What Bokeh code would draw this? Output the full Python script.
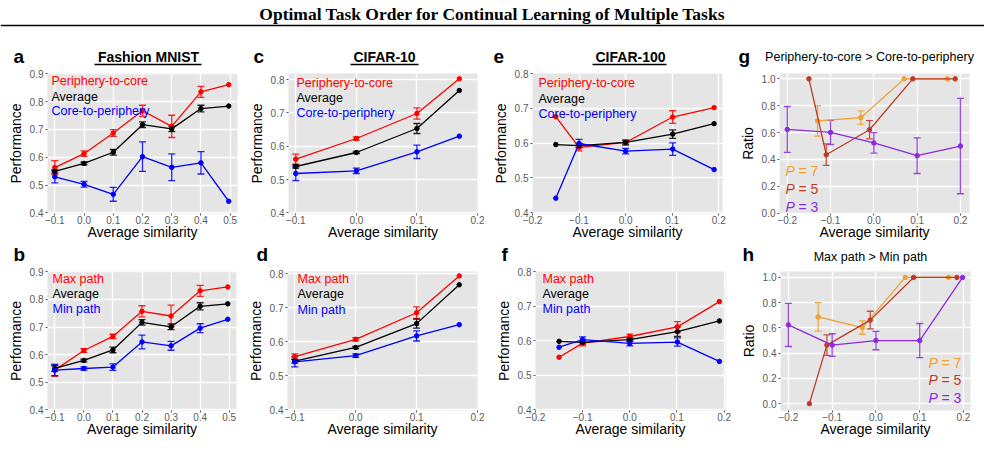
from bokeh.plotting import figure
from bokeh.models import (ColumnDataSource, Whisker, TeeHead, Label, Range1d,
                          FixedTicker, CustomJSTickFormatter)
from bokeh.layouts import column, row
from bokeh.embed import file_html
from bokeh.resources import INLINE
from bokeh.core.properties import value

# ---------------- data ----------------
main_title = "Optimal Task Order for Continual Learning of Multiple Tasks"
dataset_titles = ["Fashion MNIST", "CIFAR-10", "CIFAR-100"]
ratio_titles = ["Periphery-to-core > Core-to-periphery", "Max path > Min path"]
panel_letters = ["a", "b", "c", "d", "e", "f", "g", "h"]

fm_x = [-0.1, 0.0, 0.1, 0.2, 0.3, 0.4, 0.495]
c10_x = [-0.1, 0.0, 0.1, 0.17]
c100_x = [-0.15, -0.1, 0.0, 0.101, 0.19]

a_p2c = [0.563, 0.613, 0.687, 0.767, 0.711, 0.835, 0.861]
a_p2c_err = [0.025, 0.01, 0.012, 0.02, 0.04, 0.02, 0]
a_avg = [0.549, 0.578, 0.618, 0.717, 0.702, 0.775, 0.784]
a_avg_err = [0.006, 0.005, 0.01, 0.01, 0.01, 0.012, 0]
a_c2p = [0.530, 0.503, 0.467, 0.602, 0.564, 0.580, 0.442]
a_c2p_err = [0.022, 0.01, 0.025, 0.053, 0.048, 0.04, 0]

b_max = [0.544, 0.615, 0.666, 0.757, 0.740, 0.831, 0.845]
b_max_err = [0.022, 0.007, 0.008, 0.02, 0.039, 0.02, 0]
b_avg = [0.550, 0.579, 0.617, 0.717, 0.701, 0.775, 0.784]
b_avg_err = [0.01, 0.005, 0.01, 0.01, 0.01, 0.013, 0]
b_min = [0.544, 0.550, 0.555, 0.646, 0.632, 0.696, 0.728]
b_min_err = [0.02, 0.006, 0.012, 0.025, 0.016, 0.016, 0]

c_p2c = [0.561, 0.623, 0.698, 0.802]
c_p2c_err = [0.015, 0.005, 0.017, 0]
c_avg = [0.539, 0.581, 0.653, 0.767]
c_avg_err = [0.005, 0.003, 0.015, 0]
c_c2p = [0.518, 0.526, 0.583, 0.630]
c_c2p_err = [0.021, 0.008, 0.02, 0]

d_max = [0.556, 0.607, 0.685, 0.793]
d_max_err = [0.008, 0.005, 0.017, 0]
d_avg = [0.543, 0.583, 0.653, 0.767]
d_avg_err = [0.006, 0.003, 0.013, 0]
d_min = [0.541, 0.559, 0.617, 0.650]
d_min_err = [0.015, 0.005, 0.015, 0]

e_p2c = [0.676, 0.588, 0.602, 0.675, 0.702]
e_p2c_err = [0, 0.01, 0.008, 0.018, 0]
e_avg = [0.596, 0.593, 0.602, 0.626, 0.656]
e_avg_err = [0, 0.006, 0.005, 0.012, 0]
e_c2p = [0.442, 0.599, 0.577, 0.583, 0.524]
e_c2p_err = [0, 0.012, 0.008, 0.018, 0]

f_max = [0.552, 0.593, 0.612, 0.640, 0.713]
f_max_err = [0, 0.008, 0.007, 0.015, 0]
f_avg = [0.598, 0.595, 0.603, 0.626, 0.657]
f_avg_err = [0, 0.005, 0.005, 0.014, 0]
f_min = [0.581, 0.603, 0.592, 0.596, 0.540]
f_min_err = [0, 0.008, 0.007, 0.012, 0]

g7_x = [-0.13, -0.03, 0.07, 0.17]
g7_y = [0.687, 0.711, 1.0, 1.0]
g7_err = [0.114, 0.05, 0, 0]
g5_x = [-0.15, -0.11, -0.01, 0.09, 0.188]
g5_y = [1.0, 0.435, 0.621, 1.0, 1.0]
g5_err = [0, 0.08, 0.068, 0, 0]
g3_x = [-0.2, -0.1, 0.0, 0.1, 0.2]
g3_y = [0.623, 0.601, 0.523, 0.428, 0.499]
g3_err = [0.171, 0.09, 0.076, 0.133, 0.355]

h7_x = [-0.132, -0.031, 0.067, 0.166]
h7_y = [0.688, 0.603, 1.0, 1.0]
h7_err = [0.113, 0.053, 0, 0]
h5_x = [-0.152, -0.112, -0.013, 0.086, 0.185]
h5_y = [0.0, 0.464, 0.662, 1.0, 1.0]
h5_err = [0, 0.081, 0.07, 0, 0]
h3_x = [-0.2, -0.1, 0.0, 0.1, 0.198]
h3_y = [0.624, 0.464, 0.5, 0.5, 1.0]
h3_err = [0.171, 0.09, 0.073, 0.135, 0]

ticks_fm = [-0.1, 0.0, 0.1, 0.2, 0.3, 0.4, 0.5]
ticks_c10 = [-0.1, 0.0, 0.1, 0.2]
ticks_c100 = [-0.2, -0.1, 0.0, 0.1, 0.2]
ticks_perf9 = [0.4, 0.5, 0.6, 0.7, 0.8, 0.9]
ticks_perf8 = [0.4, 0.5, 0.6, 0.7, 0.8]
ticks_ratio = [0.0, 0.2, 0.4, 0.6, 0.8, 1.0]

labels_order = ["Periphery-to-core", "Average", "Core-to-periphery"]
labels_path = ["Max path", "Average", "Min path"]
labels_P = ["7", "5", "3"]

RED, BLACK, BLUE = "#FF0000", "#000000", "#0000FF"
C7, C5, C3 = "#F0A030", "#BF3A24", "#8A2BE2"
FONT = "Liberation Sans"
W = 984

fmt = CustomJSTickFormatter(code="return (tick < -1e-9 ? '\\u2212' : '') + Math.abs(tick).toFixed(1);")

FH = {}
FT = {}


def panel(box, frame, xr, yr, xticks, yticks, ylabel, xlabel="Average similarity"):
    X0, X1, Y0, Y1 = box
    fl, fr, ft, fb = frame
    p = figure(width=X1 - X0, height=Y1 - Y0, x_range=Range1d(*xr), y_range=Range1d(*yr),
               output_backend="svg", toolbar_location=None,
               min_border_left=fl - X0, min_border_right=X1 - fr,
               min_border_top=ft - Y0, min_border_bottom=Y1 - fb)
    FH[p.id] = fb - ft
    FT[p.id] = ft
    p.background_fill_color = "#E5E5E5"
    p.border_fill_color = "white"
    p.outline_line_color = None
    p.grid.grid_line_color = "white"
    p.grid.grid_line_width = 1.3
    p.xaxis.ticker = FixedTicker(ticks=xticks)
    p.yaxis.ticker = FixedTicker(ticks=yticks)
    for ax in (p.xaxis, p.yaxis):
        ax.formatter = fmt
        ax.axis_line_color = None
        ax.major_tick_line_color = "#555555"
        ax.major_tick_in = 0
        ax.major_tick_out = 2
        ax.minor_tick_line_color = None
        ax.major_label_text_font = FONT
        ax.major_label_text_font_size = "10px"
        ax.major_label_text_color = "#5a5a5a"
        ax.axis_label_text_font = FONT
        ax.axis_label_text_font_size = "14px"
        ax.axis_label_text_font_style = "normal"
        ax.axis_label_text_color = "black"
    p.xaxis.major_label_standoff = 0
    p.xaxis.axis_label_standoff = -3
    p.yaxis.major_label_standoff = 2
    p.yaxis.axis_label_standoff = 3
    p.xaxis.axis_label = xlabel
    p.yaxis.axis_label = ylabel
    return p


def series(p, xs, ys, errs, color):
    p.line(xs, ys, line_color=color, line_width=1.3)
    p.scatter(xs, ys, size=4.5, fill_color=color, line_color=color)
    bx = [x for x, e in zip(xs, errs) if e > 0]
    up = [y + e for y, e in zip(ys, errs) if e > 0]
    lo = [y - e for y, e in zip(ys, errs) if e > 0]
    src = ColumnDataSource(dict(x=bx, upper=up, lower=lo))
    p.add_layout(Whisker(source=src, base="x", upper="upper", lower="lower",
                         line_color=color, line_width=1.3, line_alpha=0.85,
                         upper_head=TeeHead(size=7, line_color=color, line_width=1.3, line_alpha=0.85),
                         lower_head=TeeHead(size=7, line_color=color, line_width=1.3, line_alpha=0.85)))


def lab(p, text, dx, sy, color="black", size="12.5px", style="normal", align="left",
        baseline="middle", font=FONT):
    # dx from frame left; sy = page y of the text middle (inside the frame)
    dy = sy - FT[p.id]
    p.add_layout(Label(x=dx, y=FH[p.id] - dy, x_units="screen", y_units="screen", text=text,
                       text_color=color, text_font_size=size, text_font=font,
                       text_font_style=style, text_align=align, text_baseline=baseline))


def header(y0, y1):
    # a strip whose ranges are the page pixels, so texts can be placed where the reference has them
    h = figure(width=W, height=y1 - y0, x_range=Range1d(0, W), y_range=Range1d(y1, y0),
               output_backend="svg", toolbar_location=None, min_border=0,
               x_axis_location=None, y_axis_location=None)
    h.grid.visible = False
    h.outline_line_color = None
    h.background_fill_color = "white"
    return h


def htext(h, x, y, t, size, style="normal", align="left", font=FONT):
    # y is the vertical middle of the text line
    h.text(x=[x], y=[y], text=[t], text_align=align, text_baseline="middle",
           text_font=value(font), text_font_style=style, text_font_size=size, text_color="black")


# vertical plan (page pixels)
H1_Y = (0, 67)
R1 = (67, 243, 73, 213)      # figure top, figure bottom, frame top, frame bottom
H2_Y = (243, 265)
R2 = (265, 447, 271, 410)

# ---------------- header row 1 (title, letters, dataset names) ----------------
H1 = header(*H1_Y)
htext(H1, 492, 13, main_title, "17.5px", style="bold", align="center", font="Liberation Serif")
H1.segment(x0=[0], y0=[25], x1=[W], y1=[25], line_color="black", line_width=1.5)
for t, x in zip(panel_letters[0::2], [13, 253, 493, 738]):
    htext(H1, x, 56, t, "19px", style="bold")
for t, cx, ux0, ux1 in zip(dataset_titles, [148, 384, 630], [94, 350, 592], [201, 418, 666]):
    htext(H1, cx, 56, t, "14px", style="bold", align="center")
    H1.segment(x0=[ux0], y0=[64], x1=[ux1], y1=[64], line_color="black", line_width=1.5)
htext(H1, 869, 56.5, ratio_titles[0], "12.5px", align="center")

# ---------------- header row 2 ----------------
H2 = header(*H2_Y)
for t, x in zip(panel_letters[1::2], [13, 256, 501, 742]):
    htext(H2, x, 254, t, "19px", style="bold")
htext(H2, 870, 256, ratio_titles[1], "12.5px", align="center")

pa = panel((0, 245, R1[0], R1[1]), (47, 237, R1[2], R1[3]), (-0.125, 0.525), (0.398, 0.901),
           ticks_fm, ticks_perf9, "Performance")
series(pa, fm_x, a_p2c, a_p2c_err, RED)
series(pa, fm_x, a_avg, a_avg_err, BLACK)
series(pa, fm_x, a_c2p, a_c2p_err, BLUE)

pc = panel((245, 484, R1[0], R1[1]), (287, 477, R1[2], R1[3]), (-0.112, 0.2), (0.398, 0.818),
           ticks_c10, ticks_perf8, "Performance")
series(pc, c10_x, c_p2c, c_p2c_err, RED)
series(pc, c10_x, c_avg, c_avg_err, BLACK)
series(pc, c10_x, c_c2p, c_c2p_err, BLUE)

pe = panel((484, 729, R1[0], R1[1]), (532, 722, R1[2], R1[3]), (-0.2, 0.208), (0.398, 0.8),
           ticks_c100, ticks_perf8, "Performance")
series(pe, c100_x, e_p2c, e_p2c_err, RED)
series(pe, c100_x, e_avg, e_avg_err, BLACK)
series(pe, c100_x, e_c2p, e_c2p_err, BLUE)

pg = panel((729, W, R1[0], R1[1]), (779, 969, R1[2], R1[3]), (-0.218, 0.221), (-0.003, 1.04),
           ticks_c100, ticks_ratio, "Ratio")
series(pg, g7_x, g7_y, g7_err, C7)
series(pg, g5_x, g5_y, g5_err, C5)
series(pg, g3_x, g3_y, g3_err, C3)

pb = panel((0, 244, R2[0], R2[1]), (47, 236, R2[2], R2[3]), (-0.125, 0.525), (0.398, 0.901),
           ticks_fm, ticks_perf9, "Performance")
series(pb, fm_x, b_max, b_max_err, RED)
series(pb, fm_x, b_avg, b_avg_err, BLACK)
series(pb, fm_x, b_min, b_min_err, BLUE)

pd_ = panel((244, 484, R2[0], R2[1]), (287, 477, R2[2], R2[3]), (-0.112, 0.2), (0.398, 0.806),
            ticks_c10, ticks_perf8, "Performance")
series(pd_, c10_x, d_max, d_max_err, RED)
series(pd_, c10_x, d_avg, d_avg_err, BLACK)
series(pd_, c10_x, d_min, d_min_err, BLUE)

pf = panel((484, 732, R2[0], R2[1]), (535, 725, R2[2], R2[3]), (-0.2, 0.203), (0.398, 0.8),
           ticks_c100, ticks_perf8, "Performance")
series(pf, c100_x, f_max, f_max_err, RED)
series(pf, c100_x, f_avg, f_avg_err, BLACK)
series(pf, c100_x, f_min, f_min_err, BLUE)

ph = panel((732, W, R2[0], R2[1]), (780, 970, R2[2], R2[3]), (-0.218, 0.216), (-0.054, 1.047),
           ticks_c100, ticks_ratio, "Ratio")
series(ph, h7_x, h7_y, h7_err, C7)
series(ph, h5_x, h5_y, h5_err, C5)
series(ph, h3_x, h3_y, h3_err, C3)

# in-panel legends (page y of each line's middle)
for p, texts, dx, ys in [(pa, labels_order, 4, (80, 96, 110)), (pc, labels_order, 8, (82, 97, 112)),
                         (pe, labels_order, 6, (82, 98, 113)), (pb, labels_path, 5, (278, 293, 308)),
                         (pd_, labels_path, 10, (278, 293, 309)), (pf, labels_path, 7, (278, 293, 308))]:
    for t, c, y in zip(texts, (RED, BLACK, BLUE), ys):
        lab(p, t, dx, y, color=c, size="12.5px")

for p, dx, ys in [(pg, 6, (170, 188, 206)), (ph, 148, (362, 379, 397))]:
    for t, c, y in zip(labels_P, (C7, C5, C3), ys):
        lab(p, "P", dx, y, color=c, size="14px", style="italic")
        lab(p, "= " + t, dx + 13, y, color=c, size="14px")

layout = column(H1, row(pa, pc, pe, pg), H2, row(pb, pd_, pf, ph))
open("out.html", "w").write(file_html(layout, INLINE))
